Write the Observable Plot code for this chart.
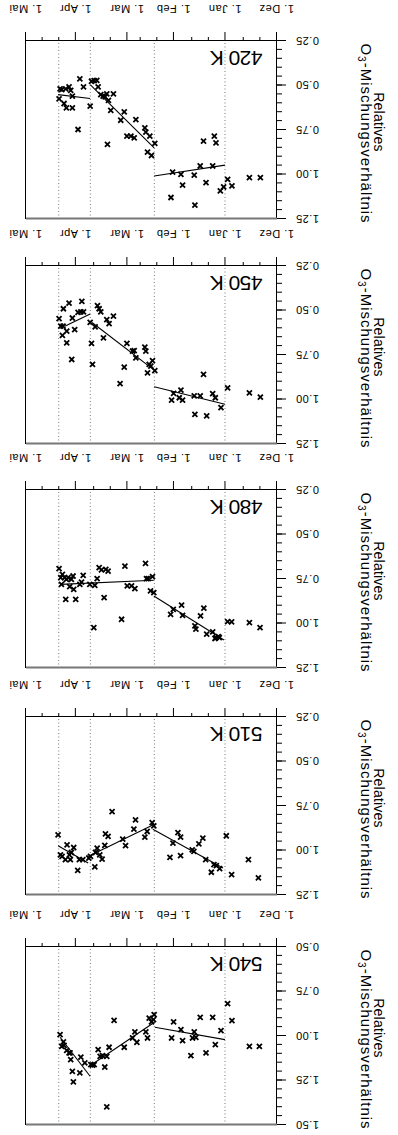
<!DOCTYPE html>
<html><head><meta charset="utf-8">
<script src="https://cdn.jsdelivr.net/npm/d3@7"></script>
<script src="https://cdn.jsdelivr.net/npm/@observablehq/plot@0.6"></script>
<style>
html,body{margin:0;padding:0;background:#fff;}
#page{position:relative;width:398px;height:1135px;transform:rotate(180deg);overflow:hidden;background:#fff;font-family:"Liberation Sans",Arial,sans-serif;}
#page svg{position:absolute;left:0;}
</style></head><body><div id="page"></div>
<script>
// x: days since 1 December
const monthTickDays = [0, 31, 62, 90, 121, 151];
const monthTickLabels = ["1. Dez", "1. Jan", "1. Feb", "1. Mar", "1. Apr", "1. Mai"];
const minorTickDays = [10, 20, 41, 51, 72, 82, 100, 110, 131, 141];
const gridDays = [31, 73.5, 112, 131];
const yTicksLow = [0.25, 0.50, 0.75, 1.00, 1.25];
const yTicksHigh = [0.50, 0.75, 1.00, 1.25, 1.50];
const titleLine1 = "Relatives";
const titleLine2 = "O₃-Mischungsverhältnis";

const days420 = [130.8,130.2,129.2,126.8,124.8,123.8,122.8,127.8,126.4,122.8,119.4,118.3,116.1,112.1,111.3,109.7,108.1,107.3,105.7,104.3,103.1,102.1,101.1,98.1,99.7,101.7,91.6,93.7,90.0,87.6,85.6,84.6,79.2,78.6,76.2,73.2,77.6,75.2,62.5,57.5,56.5,63.5,49.5,49.1,45.9,42.4,43.9,37.4,36.4,38.4,33.8,31.8,29.4,26.8,16.3,9.7];
const vals420 = [0.578,0.522,0.526,0.522,0.511,0.530,0.563,0.604,0.629,0.629,0.750,0.465,0.511,0.619,0.479,0.476,0.474,0.511,0.554,0.563,0.567,0.550,0.586,0.550,0.642,0.834,0.651,0.698,0.787,0.787,0.797,0.694,0.741,0.765,0.787,0.828,0.877,0.896,0.989,1.002,1.062,1.132,1.006,1.175,0.955,1.049,0.815,0.787,0.825,0.955,1.095,1.073,1.030,1.067,1.020,1.020];
const fits420 = [[73.6,1.011,31,0.950],[112.1,0.498,73.6,0.853],[131.4,0.554,112.1,0.576]];

const days450 = [130.8,129.8,128.4,128.8,128.2,126.2,126.2,124.8,123.2,122.8,121.4,119.4,117.7,117.1,116.1,112.1,111.3,110.7,109.1,107.7,106.7,105.7,104.1,102.1,100.7,98.1,94.1,91.6,90.0,86.6,85.6,84.6,79.2,78.6,77.6,76.6,75.6,74.6,73.2,63.1,61.9,58.5,57.5,56.5,49.5,49.1,45.9,43.9,42.0,38.4,36.8,33.4,29.4,16.3,9.7];
const vals450 = [0.549,0.591,0.591,0.642,0.493,0.619,0.685,0.461,0.778,0.545,0.610,0.513,0.511,0.451,0.511,0.569,0.688,0.806,0.595,0.476,0.493,0.511,0.657,0.554,0.576,0.535,0.914,0.821,0.688,0.731,0.728,0.769,0.709,0.731,0.853,0.806,0.815,0.784,0.840,1.006,0.968,0.993,0.950,1.006,0.983,1.086,0.983,0.862,1.095,0.970,0.993,1.049,0.937,0.965,0.989];
const fits450 = [[73.6,0.931,31,1.030],[111,0.570,73.6,0.838],[127.4,0.591,112.1,0.522]];

const days480 = [130.8,129.8,129.4,128.8,127.4,126.4,126.8,125.4,124.4,123.4,122.4,122.0,120.8,118.3,117.3,116.3,112.3,109.9,109.3,107.9,106.7,105.3,103.7,102.7,101.3,93.2,91.2,89.8,87.2,85.2,78.8,78.2,77.2,75.8,74.6,73.8,63.7,62.1,57.1,56.5,49.1,48.5,45.7,43.7,42.0,38.4,36.4,34.4,29.4,27.0,16.3,9.9,37.0,35.0];
const vals480 = [0.695,0.745,0.783,0.727,0.745,0.755,0.867,0.745,0.796,0.755,0.736,0.811,0.867,0.783,0.770,0.732,0.783,1.026,0.788,0.751,0.689,0.702,0.857,0.699,0.708,0.979,0.680,0.792,0.792,0.807,0.665,0.751,0.751,0.820,0.740,0.829,0.951,0.923,0.900,0.957,1.016,1.035,0.960,0.917,1.063,1.050,1.082,1.082,0.992,0.994,0.998,1.026,1.087,1.076];
const fits480 = [[73.8,0.848,31.6,1.095],[130,0.783,73.8,0.760]];

const days510 = [131.4,130.0,129.0,127.0,126.0,124.6,123.4,122.0,124.0,119.6,118.6,116.5,112.9,111.9,109.3,107.9,108.9,106.3,104.9,103.3,102.9,101.3,98.9,92.5,90.8,85.8,84.8,79.2,77.8,74.8,73.8,64.1,62.3,59.3,57.7,57.7,50.7,49.7,46.7,44.3,42.6,39.2,37.6,36.2,34.2,30.2,27.0,16.9,10.9];
const vals510 = [0.915,1.027,1.036,1.054,0.971,1.027,1.014,0.986,1.054,1.114,1.054,1.054,1.045,1.036,1.095,0.989,1.014,1.027,1.051,0.974,0.909,0.924,0.784,0.939,0.976,0.883,0.831,0.928,0.896,0.846,0.865,1.041,0.961,0.902,0.928,1.032,0.999,1.008,0.965,0.933,1.054,1.125,1.082,1.088,1.105,0.920,1.138,1.054,1.157];
const fits510 = [[74.4,0.883,32.2,1.101],[113.3,1.036,74.4,0.859],[131.4,0.976,113.3,1.073]];

const days540 = [130.2,129.2,128.2,127.8,126.2,124.8,123.8,124.2,122.8,122.2,118.3,117.7,115.3,111.7,110.7,109.7,107.3,106.1,104.7,103.3,102.1,102.1,100.7,97.7,91.6,86.6,85.2,84.0,78.6,77.6,76.6,75.2,74.0,73.6,63.1,61.9,57.5,56.5,51.5,50.5,49.5,48.5,45.9,42.4,38.4,36.8,33.4,29.4,26.8,16.3,10.3];
const vals540 = [0.995,1.061,1.036,1.055,1.083,1.098,1.136,1.098,1.201,1.261,1.210,1.122,1.154,1.164,1.167,1.164,1.079,1.117,1.113,1.177,1.117,1.401,1.066,0.915,1.066,1.014,0.980,1.038,0.980,1.014,0.902,0.924,0.911,0.883,1.014,0.924,0.967,1.029,1.113,1.014,0.980,1.010,0.898,1.098,0.898,1.051,0.973,0.821,0.917,1.061,1.061];
const fits540 = [[73.2,0.954,31,1.023],[111.3,1.164,73.2,0.924],[130.2,1.010,112.1,1.229]];

const panels = [
  {label: "540 K", days: days540, vals: vals540, fits: fits540, ticks: yTicksHigh, plotTop: 10},
  {label: "510 K", days: days510, vals: vals510, fits: fits510, ticks: yTicksLow, plotTop: 240},
  {label: "480 K", days: days480, vals: vals480, fits: fits480, ticks: yTicksLow, plotTop: 467},
  {label: "450 K", days: days450, vals: vals450, fits: fits450, ticks: yTicksLow, plotTop: 691},
  {label: "420 K", days: days420, vals: vals420, fits: fits420, ticks: yTicksLow, plotTop: 916}
];

const page = document.getElementById("page");
const font = "'Liberation Sans', Arial, sans-serif";
const NS = "http://www.w3.org/2000/svg";

for (const p of panels) {
  const pts = p.days.map((d, i) => ({d, v: p.vals[i]}));
  const segs = p.fits.map(([d1, v1, d2, v2]) => ({d1, v1, d2, v2}));
  const y0 = p.ticks[0], y1 = p.ticks[p.ticks.length - 1];
  const minorY = d3.range(0, 21).map(i => +(y0 + i * 0.05).toFixed(2));
  const svg = Plot.plot({
    width: 398, height: 226,
    marginTop: 10, marginBottom: 38, marginLeft: 121, marginRight: 26,
    style: {fontFamily: font, fontSize: "11px", color: "#000", background: "transparent", overflow: "visible", letterSpacing: "0.5px"},
    x: {domain: [0, 151]},
    y: {domain: [y0, y1]},
    marks: [
      Plot.ruleX(gridDays, {stroke: "#777", strokeDasharray: "1,2.5", strokeWidth: 1}),
      Plot.link(segs, {x1: "d1", y1: "v1", x2: "d2", y2: "v2", stroke: "#000", strokeWidth: 1.1}),
      Plot.dot(pts, {x: "d", y: "v", symbol: "times", r: 2.4, stroke: "#000", strokeWidth: 1.8}),
      Plot.frame({stroke: "#000", strokeWidth: 1}),
      Plot.ruleY([y1], {stroke: "#777", strokeWidth: 2}),
      Plot.axisX(minorTickDays, {anchor: "bottom", tickSize: 4, tickFormat: () => "", label: null}),
      Plot.axisX(monthTickDays, {anchor: "bottom", tickSize: 9, tickPadding: 19, label: null,
        tickFormat: d => monthTickLabels[monthTickDays.indexOf(d)], fontSize: 11}),
      Plot.axisY(minorY, {anchor: "left", tickSize: 5, tickFormat: () => "", label: null}),
      Plot.axisY(p.ticks, {anchor: "left", tickSize: 9, tickPadding: 10, label: null,
        tickFormat: d3.format(".2f"), fontSize: 11}),
      Plot.text([p.label], {frameAnchor: "bottom-left", dx: 14, dy: -17, textAnchor: "start",
        lineAnchor: "middle", fontSize: 21}),
      Plot.text([titleLine1], {frameAnchor: "left", rotate: -90, dx: -102, dy: 7.5, fontSize: 14,
        textAnchor: "middle", lineAnchor: "middle"}),
      Plot.text([titleLine2], {frameAnchor: "left", rotate: -90, dx: -89, dy: -4, fontSize: 15,
        textAnchor: "middle", lineAnchor: "middle"})
    ]
  });
  for (const t of svg.querySelectorAll("text")) {
    const s = t.textContent;
    if (s === p.label) t.setAttribute("letter-spacing", "-0.5");
    if (s === titleLine1) t.setAttribute("letter-spacing", "0.2");
    if (s === titleLine2) {
      t.setAttribute("letter-spacing", "1");
      const k = s.indexOf("₃");
      t.textContent = s.slice(0, k);
      const sub = document.createElementNS(NS, "tspan");
      sub.setAttribute("dy", "3");
      sub.setAttribute("font-size", "10");
      sub.textContent = "3";
      const rest = document.createElementNS(NS, "tspan");
      rest.setAttribute("dy", "-3");
      rest.textContent = s.slice(k + 1);
      t.appendChild(sub);
      t.appendChild(rest);
    }
  }
  svg.style.top = (p.plotTop - 10) + "px";
  page.appendChild(svg);
}
</script></body></html>
